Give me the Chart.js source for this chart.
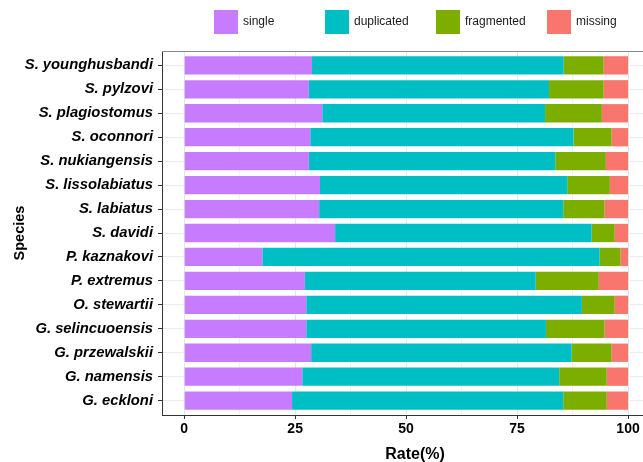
<!DOCTYPE html>
<html>
<head>
<meta charset="utf-8">
<script src="https://cdn.jsdelivr.net/npm/chart.js@4"></script>
<style>
  html, body { margin: 0; padding: 0; background: #fff; overflow: hidden; }
</style>
</head>
<body>
<canvas id="busco-chart" width="670" height="462"></canvas>
<script>
// species, top to bottom
const species = [
    'S. younghusbandi', 'S. pylzovi', 'S. plagiostomus', 'S. oconnori', 'S. nukiangensis',
    'S. lissolabiatus', 'S. labiatus', 'S. davidi', 'P. kaznakovi', 'P. extremus',
    'O. stewartii', 'G. selincuoensis', 'G. przewalskii', 'G. namensis', 'G. eckloni'
];
const single     = [28.8, 28.1, 31.1, 28.4, 28.1, 30.6, 30.4, 34.0, 17.6, 27.2, 27.5, 27.5, 28.6, 26.6, 24.3];
const duplicated = [56.7, 54.1, 50.2, 59.3, 55.5, 55.7, 55.0, 57.8, 76.0, 52.0, 62.1, 54.0, 58.7, 57.9, 61.1];
const fragmented = [ 9.0, 12.3, 12.8,  8.6, 11.4,  9.6,  9.3,  5.2,  4.7, 14.2,  7.4, 13.2,  9.0, 10.7,  9.8];
const missing    = [ 5.5,  5.5,  5.9,  3.7,  5.0,  4.1,  5.3,  3.0,  1.7,  6.6,  3.0,  5.3,  3.7,  4.8,  4.8];
const seriesNames = ['single', 'duplicated', 'fragmented', 'missing'];
const rateTicks = [0, 25, 50, 75, 100];

const seriesValues = [single, duplicated, fragmented, missing];
const seriesColors = ['#C77CFF', '#00BFC4', '#7CAE00', '#F8766D'];
const FONT = "'Liberation Sans', Arial, sans-serif";
Chart.defaults.font.family = FONT;

// major ticks plus the minor lines half way between them
const gridValues = rateTicks.flatMap((v, i) => i ? [(rateTicks[i - 1] + v) / 2, v] : [v]);
const isMajor = v => rateTicks.includes(v);

// ggplot-like legend (fixed slots centred over the panel) and the grey top border
const ggLegend = {
    id: 'ggLegend',
    afterDraw(chart) {
        const ctx = chart.ctx;
        const area = chart.chartArea;
        ctx.save();
        ctx.strokeStyle = '#8a8a8a';
        ctx.lineWidth = 1;
        ctx.beginPath();
        ctx.moveTo(area.left, area.top + 0.5);
        ctx.lineTo(area.right, area.top + 0.5);
        ctx.stroke();

        ctx.font = '12px ' + FONT;
        ctx.textBaseline = 'middle';
        const datasets = chart.data.datasets;
        const slot = 111;
        const lastWidth = 29 + ctx.measureText(datasets[datasets.length - 1].label).width;
        let x = Math.round((area.left + area.right) / 2 - (slot * (datasets.length - 1) + lastWidth) / 2);
        datasets.forEach(ds => {
            ctx.fillStyle = ds.backgroundColor;
            ctx.fillRect(x, 10, 24, 24);
            ctx.fillStyle = '#1a1a1a';
            ctx.fillText(ds.label, x + 29, 22);
            x += slot;
        });
        ctx.restore();
    }
};

new Chart(document.getElementById('busco-chart'), {
    type: 'bar',
    data: {
        datasets: seriesNames.map((name, k) => ({
            label: name,
            data: species.map((s, i) => ({ x: seriesValues[k][i], y: i })),
            backgroundColor: seriesColors[k],
            barPercentage: 0.765,
            categoryPercentage: 1
        }))
    },
    options: {
        indexAxis: 'y',
        responsive: false,
        animation: false,
        layout: { padding: { top: 51, right: 2, bottom: 0, left: 0 } },
        plugins: {
            legend: { display: false },
            tooltip: { enabled: false }
        },
        scales: {
            x: {
                type: 'linear',
                stacked: true,
                min: -5,
                max: 109,
                afterBuildTicks: scale => { scale.ticks = gridValues.map(v => ({ value: v })); },
                afterFit: scale => { scale.height = 47; },
                ticks: {
                    callback: v => isMajor(v) ? v : '',
                    font: { size: 14, weight: 'bold' },
                    color: '#000',
                    padding: 2,
                    maxRotation: 0,
                    autoSkip: false
                },
                grid: {
                    color: ctx => (ctx.tick && isMajor(ctx.tick.value)) ? '#e6e6e6' : '#f1f1f1',
                    tickColor: ctx => (ctx.tick && isMajor(ctx.tick.value)) ? '#333' : 'rgba(0,0,0,0)',
                    tickLength: 4
                },
                border: { color: '#333', width: 1 },
                title: {
                    display: true,
                    text: 'Rate(%)',
                    font: { size: 16, weight: 'bold' },
                    color: '#000',
                    padding: { top: 0, bottom: -2 }
                }
            },
            y: {
                type: 'linear',
                stacked: true,
                reverse: true,
                offset: false,
                min: -0.6,
                max: species.length - 0.4,
                afterBuildTicks: scale => { scale.ticks = species.map((n, i) => ({ value: i })); },
                afterFit: scale => { scale.width = 162; },
                ticks: {
                    callback: v => species[v],
                    font: { size: 14.8, weight: 'bold', style: 'italic' },
                    color: '#000',
                    padding: 5,
                    autoSkip: false
                },
                grid: { color: '#ebebeb', tickColor: '#333', tickLength: 4, offset: false },
                border: { color: '#333', width: 1 },
                title: {
                    display: true,
                    text: 'Species',
                    font: { size: 14.5, weight: 'bold' },
                    color: '#000',
                    padding: { top: 11, bottom: 0 }
                }
            }
        }
    },
    plugins: [ggLegend]
});
</script>
</body>
</html>
